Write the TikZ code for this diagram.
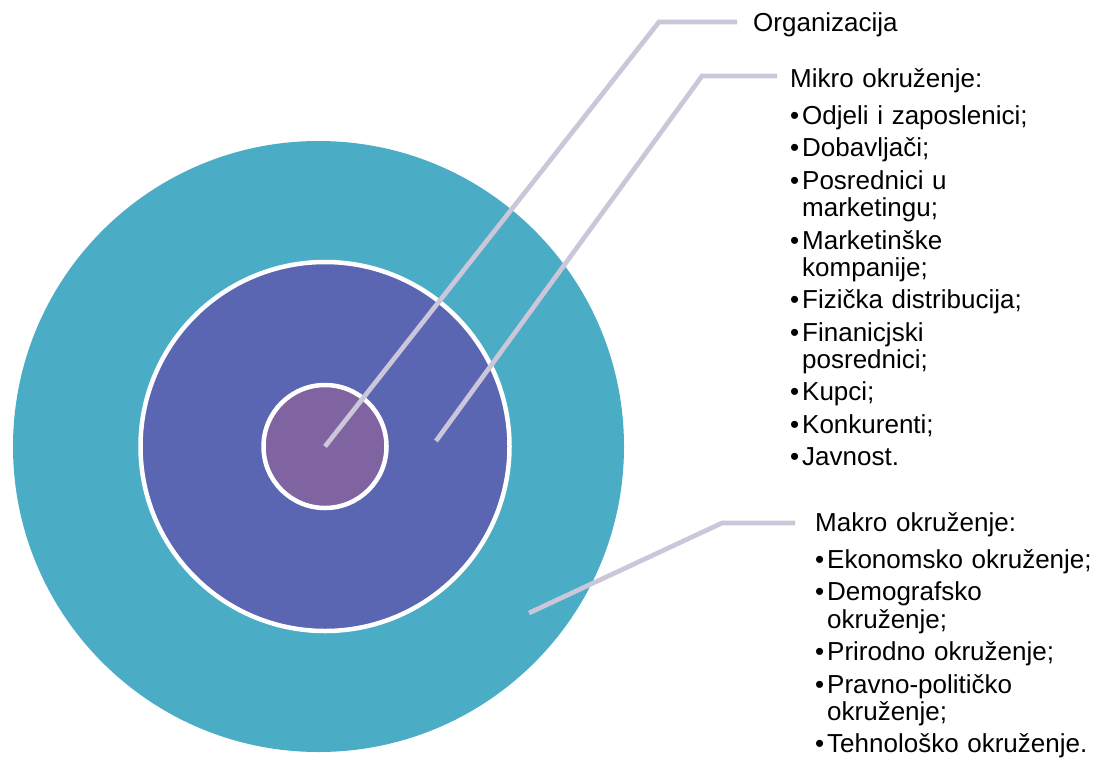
\documentclass[tikz,border=0pt]{standalone}
\usepackage{fontspec}
\setmainfont{Liberation Sans}
\definecolor{ringteal}{HTML}{4BACC6}
\definecolor{ringblue}{HTML}{5A66B2}
\definecolor{ringpurple}{HTML}{8064A2}
\definecolor{leader}{HTML}{CCC6DA}
\newcommand{\bitem}[1]{\par\noindent\hangindent=12pt\hangafter=1\makebox[12pt][l]{\textbullet}#1}
\newcommand{\blockstart}{\setlength{\parskip}{5.1pt}\lineskiplimit=-100pt\relax}
\begin{document}
\begin{tikzpicture}[x=1pt,y=-1pt,
  ring/.style={circle, inner sep=0pt, outer sep=0pt, draw=white, line width=4.5pt},
  leaderline/.style={draw=leader, line width=4.7pt, line cap=butt, line join=miter},
  heading/.style={anchor=base west, inner sep=0pt, font=\fontsize{26}{27.3}\selectfont},
  block/.style={anchor=base west, inner sep=0pt, text width=300pt, font=\fontsize{26}{27.3}\selectfont}
]
\useasboundingbox (0,0) rectangle (1099,758);
\fill[white] (0,0) rectangle (1099,758);

% circles
\node[ring, draw=none, fill=ringteal, minimum size=611pt] (outer) at (318.5,446.5) {};
\node[ring, fill=ringblue, minimum size=369pt] (middle) at (325,446.5) {};
\node[ring, fill=ringpurple, minimum size=123pt] (inner) at (325,446.5) {};

% leader points
\coordinate (m1) at (436,441);
\coordinate (m2) at (529,613);
\coordinate (b0) at (659,22);
\coordinate (e0) at (737,22);
\coordinate (b1) at (702,76);
\coordinate (e1) at (777,76);
\coordinate (b2) at (722,523);
\coordinate (e2) at (795,523);

\draw[leaderline] (inner.center) -- (b0) -- (e0);
\draw[leaderline] (m1) -- (b1) -- (e1);
\draw[leaderline] (m2) -- (b2) -- (e2);

% texts
\node[heading] (org) at (753,31.5) {Organizacija};

\node[block] (mikro) at (790,87.5) {\blockstart Mikro okruženje:\par\vspace{4.6pt}
\bitem{Odjeli i zaposlenici;}
\bitem{Dobavljači;}
\bitem{Posrednici u\newline marketingu;}
\bitem{Marketinške\newline kompanije;}
\bitem{Fizička distribucija;}
\bitem{Finanicjski\newline posrednici;}
\bitem{Kupci;}
\bitem{Konkurenti;}
\bitem{Javnost.}};

\node[block] (makro) at (815,531.5) {\blockstart Makro okruženje:\par\vspace{4.6pt}
\bitem{Ekonomsko okruženje;}
\bitem{Demografsko\newline okruženje;}
\bitem{Prirodno okruženje;}
\bitem{Pravno-političko\newline okruženje;}
\bitem{Tehnološko okruženje.}};
\end{tikzpicture}
\end{document}
